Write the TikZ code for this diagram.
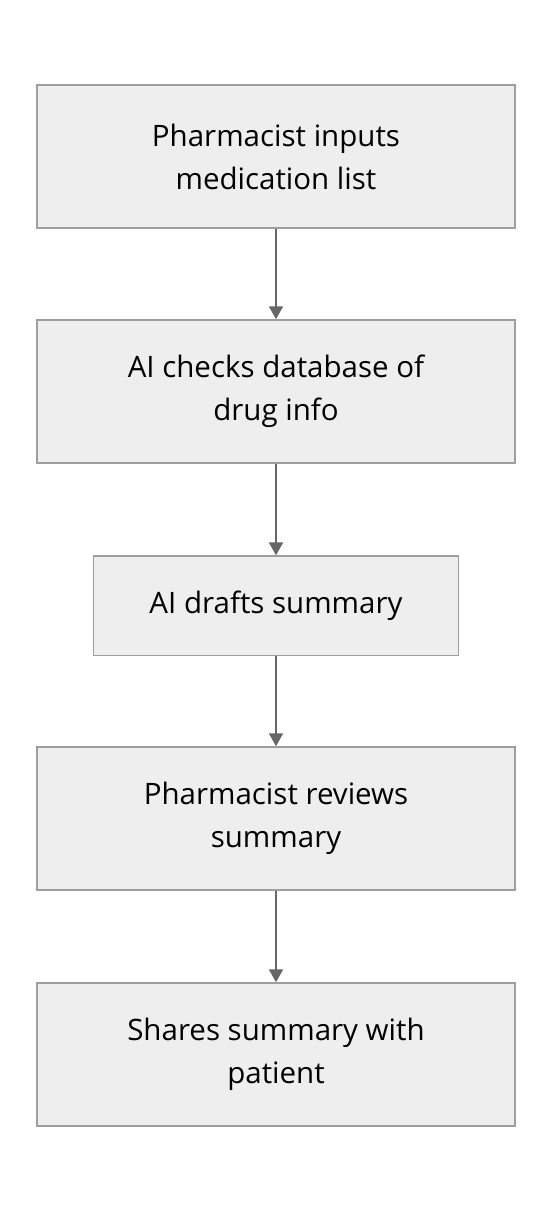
\documentclass[tikz,border=0pt]{standalone}
\usepackage{fontspec}
\setmainfont{Open Sans}
\usetikzlibrary{arrows.meta}
\definecolor{boxfill}{HTML}{EEEEEE}
\definecolor{boxline}{HTML}{9E9E9E}
\definecolor{arrowc}{HTML}{666666}
\begin{document}
\begin{tikzpicture}[x=1pt,y=-1pt,
  stepbox/.style={draw=boxline,fill=boxfill,line width=1.5pt,minimum height=143pt,minimum width=478pt,inner sep=0pt,align=center,font=\fontsize{29.5}{43}\selectfont,text=black},
  flowarrow/.style={draw=arrowc,line width=2pt,-{Triangle[length=13pt,width=14pt]}}]
\useasboundingbox (0,0) rectangle (552,1212);
\node[stepbox] (a) at (276,156.5) {Pharmacist inputs\\medication list};
\node[stepbox] (b) at (276,391.5) {AI checks database of\\drug info};
\node[stepbox,minimum width=365pt,minimum height=99.5pt] (c) at (276,605.8) {AI drafts summary};
\node[stepbox] (d) at (276,818.5) {Pharmacist reviews\\summary};
\node[stepbox] (e) at (276,1054.5) {Shares summary with\\patient};
\draw[flowarrow] (a) -- (b);
\draw[flowarrow] (b) -- (c);
\draw[flowarrow] (c) -- (d);
\draw[flowarrow] (d) -- (e);
\end{tikzpicture}
\end{document}
